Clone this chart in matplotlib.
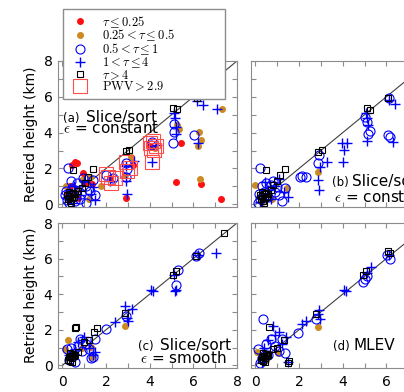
import numpy as np
import matplotlib.pyplot as plt

plt.rcParams.update({"font.family": "DejaVu Sans", "font.size": 10, "mathtext.fontset": "cm"})

# (true, retrieved) pairs, per panel and per tau class
a_red = [(0.45, 2.2), (0.6, 2.35), (0.65, 2.28), (0.95, 1.75), (1.05, 1.2), (0.35, 1.05), (0.55, 0.55),
         (0.7, 0.35), (1.35, 1.15), (0.2, 0.6), (2.2, 1.45), (2.9, 0.35), (3.25, 2.2), (4.0, 3.25),
         (5.45, 3.4), (5.2, 1.25), (6.35, 1.15), (7.25, 0.3)]
a_orange = [(0.15, 1.0), (0.5, 0.35), (0.7, 0.85), (0.9, 1.35), (1.2, 0.3), (1.25, 1.55), (1.75, 1.05),
            (2.85, 1.65), (3.15, 2.65), (4.25, 3.15), (5.35, 4.2), (5.25, 4.45), (6.28, 4.05), (6.35, 3.6),
            (6.22, 3.27), (6.3, 1.4), (7.3, 5.3)]
a_circle = [(0.27, 2.0), (0.1, 0.5), (0.2, 0.25), (0.3, 0.05), (0.45, 0.9), (0.65, 1.2), (0.85, 0.6),
            (1.1, 1.0), (1.25, 0.75), (1.4, 1.35), (1.1, 0.1), (0.6, 0.2), (0.4, 1.3), (0.8, 0.3), (1.5, 0.5),
            (0.15, 0.75), (0.95, 1.45), (2.0, 1.65), (2.3, 1.45), (2.9, 2.3), (2.95, 1.95), (2.9, 1.55),
            (4.05, 3.3), (4.1, 3.5), (5.1, 4.5), (5.1, 4.05), (5.05, 3.4), (6.05, 3.85)]
a_plus = [(0.3, 0.8), (0.55, 1.05), (0.8, 0.5), (1.0, 1.3), (1.3, 0.6), (1.5, 0.25), (0.5, 0.1), (1.4, 0.95),
          (0.2, 0.4), (2.2, 1.3), (2.9, 2.15), (2.9, 1.3), (2.95, 0.6), (3.3, 2.4), (4.12, 2.38), (4.32, 3.3),
          (5.1, 5.1), (5.15, 4.8), (5.2, 4.3), (5.2, 3.9), (6.15, 5.75), (6.45, 5.55), (7.1, 5.3), (6.2, 3.45)]
a_square = [(0.25, 0.3), (0.3, 0.45), (0.35, 0.2), (0.4, 0.55), (0.45, 0.35), (0.5, 0.65), (0.55, 0.4),
            (0.3, 0.7), (0.6, 0.55), (0.4, 0.1), (0.2, 0.5), (0.7, 0.75), (0.9, 0.9), (1.05, 1.2), (1.18, 1.54),
            (0.5, 1.92), (1.41, 1.95), (2.9, 2.95), (3.05, 3.03), (5.05, 5.38), (5.25, 5.3), (6.15, 5.95),
            (7.2, 7.05)]
a_pwv = [(2.0, 1.7), (2.1, 1.55), (2.4, 1.47), (2.25, 1.2), (2.9, 2.35), (3.1, 2.0), (2.95, 1.85),
         (4.0, 3.4), (4.15, 3.55), (4.3, 3.25), (4.05, 3.15), (4.2, 3.05), (4.12, 2.38)]

b_red = []
b_orange = [(0.0, 1.08), (0.74, 0.3), (1.43, 0.9), (0.3, 0.15), (2.85, 1.8)]
b_circle = [(0.2, 2.05), (0.3, 1.0), (0.5, 1.2), (0.7, 1.1), (0.9, 0.7), (1.1, 0.5), (1.2, 0.2), (0.6, 0.4),
            (0.2, 0.3), (0.1, 0.1), (1.35, 0.9), (0.4, 0.7), (0.8, 1.3), (1.0, 0.95), (0.15, 0.6), (2.04, 1.55),
            (2.3, 1.5), (2.15, 1.6), (2.85, 2.29), (2.9, 2.75), (5.1, 4.6), (5.25, 4.1), (5.15, 3.9), (5.0, 4.9),
            (6.09, 3.87), (6.15, 3.75), (6.1, 5.95)]
b_plus = [(0.3, 0.5), (0.6, 0.8), (0.9, 1.0), (1.1, 1.4), (1.3, 0.7), (1.5, 0.4), (0.2, 0.15), (0.7, 0.3),
          (0.45, 1.25), (2.85, 1.35), (2.9, 0.8), (2.95, 2.1), (3.27, 2.38), (3.95, 3.4), (4.2, 3.45),
          (4.05, 3.05), (4.0, 2.38), (5.05, 5.1), (5.1, 4.8), (5.15, 4.4), (5.1, 3.55), (6.1, 5.8), (6.4, 5.6),
          (6.3, 3.46)]
b_square = [(0.25, 0.3), (0.3, 0.45), (0.35, 0.2), (0.4, 0.55), (0.45, 0.35), (0.5, 0.65), (0.55, 0.4),
            (0.3, 0.7), (0.6, 0.55), (0.4, 0.1), (0.2, 0.5), (0.7, 0.8), (0.47, 1.92), (1.35, 1.95),
            (1.12, 1.64), (1.0, 1.3), (0.8, 1.1), (2.85, 2.9), (3.04, 3.03), (5.1, 5.36), (5.25, 5.27),
            (6.09, 5.96)]

c_red = []
c_orange = [(0.27, 1.43), (0.11, 0.9), (1.35, 0.45), (0.9, 1.0), (1.3, 1.05), (0.5, 0.6), (2.89, 2.2)]
c_circle = [(0.2, 0.9), (0.3, 0.3), (0.5, 0.5), (0.7, 1.1), (0.9, 0.8), (1.1, 1.2), (1.3, 0.4), (1.4, 0.45),
            (1.5, 1.5), (0.8, 1.5), (1.2, 0.9), (0.4, 0.95), (0.6, 0.2), (2.0, 2.02), (2.9, 2.8), (5.2, 4.54),
            (5.3, 5.35), (6.25, 6.3), (6.13, 6.15)]
c_plus = [(0.3, 0.6), (0.6, 0.9), (0.9, 1.4), (1.2, 1.0), (1.49, 0.74), (1.4, 0.6), (1.0, 1.6), (0.7, 1.3),
          (2.4, 2.43), (2.87, 3.32), (3.17, 3.14), (2.95, 2.65), (3.0, 2.5), (4.07, 4.25), (4.15, 4.16),
          (5.2, 4.22), (5.15, 4.15), (7.05, 6.34), (6.2, 6.2), (5.1, 5.1)]
c_square = [(0.25, 0.3), (0.3, 0.45), (0.35, 0.25), (0.4, 0.55), (0.45, 0.4), (0.5, 0.65), (0.55, 0.5),
            (0.35, 0.7), (0.6, 0.6), (0.45, 0.2), (0.7, 0.75), (0.63, 2.17), (0.6, 2.12), (1.58, 2.11),
            (1.46, 1.85), (1.0, 1.3), (1.2, 1.4), (2.89, 2.92), (5.06, 5.1), (5.2, 5.28), (6.13, 6.15),
            (7.4, 7.42)]

d_red = []
d_orange = [(0.06, 0.75), (1.02, 0.72), (0.5, 0.3), (2.86, 2.17)]
d_circle = [(0.34, 2.58), (0.1, 0.9), (0.3, 0.4), (0.5, 1.2), (0.7, 1.5), (0.9, 1.1), (1.1, 0.8),
            (1.38, 0.68), (1.2, 1.5), (0.6, 0.6), (0.2, 0.15), (1.94, 1.8), (2.8, 2.6), (4.95, 4.7),
            (5.0, 4.85), (5.1, 5.0), (6.15, 6.0), (6.05, 6.2)]
d_plus = [(0.8, 2.2), (0.4, 1.0), (0.6, 1.4), (0.9, 1.7), (1.2, 1.2), (1.4, 1.6), (1.5, 0.2), (0.3, 0.2),
          (1.1, 1.9), (2.3, 2.5), (2.15, 2.3), (2.9, 3.1), (2.95, 2.6), (2.85, 2.9), (4.08, 4.25),
          (4.16, 4.16), (5.3, 5.5), (5.1, 5.2), (6.1, 6.2)]
d_square = [(0.25, 0.3), (0.3, 0.45), (0.35, 0.25), (0.4, 0.55), (0.45, 0.4), (0.5, 0.65), (0.55, 0.5),
            (0.35, 0.7), (0.6, 0.6), (0.45, 0.2), (0.8, 0.9), (1.3, 1.4), (1.0, 1.0), (0.61, 2.17),
            (1.56, 0.25), (1.5, 0.15), (2.79, 2.86), (4.93, 5.1), (5.08, 5.28), (6.07, 6.4), (6.15, 6.3)]

labels = [r'$\tau \leq 0.25$', r'$0.25 < \tau \leq 0.5$', r'$0.5 < \tau \leq 1$',
          r'$1 < \tau \leq 4$', r'$\tau > 4$', r'$\mathrm{PWV} > 2.9$']

styles = [dict(marker='o', ms=4, color='#ff1010', mec='#ff1010'),
          dict(marker='o', ms=4, color='#cc8a21', mec='#cc8a21'),
          dict(marker='o', ms=6.5, mfc='none', mec='#0000ff', mew=0.8),
          dict(marker='+', ms=7, color='#0000ff', mew=1.0),
          dict(marker='s', ms=4.5, mfc='none', mec='k', mew=0.8),
          dict(marker='s', ms=10, mfc='none', mec='#ff4d4d', mew=0.8)]

fig = plt.figure(figsize=(4.04, 3.92), dpi=100)
W, H = 404., 392.
ax_a = fig.add_axes([58/W, 1-207/H, 179/W, 146/H])
ax_b = fig.add_axes([251/W, 1-207/H, 179/W, 146/H])
ax_c = fig.add_axes([58/W, 1-368/H, 179/W, 145/H])
ax_d = fig.add_axes([251/W, 1-368/H, 179/W, 145/H])

panels = [(ax_a, [a_red, a_orange, a_circle, a_plus, a_square, a_pwv]),
          (ax_b, [b_red, b_orange, b_circle, b_plus, b_square, []]),
          (ax_c, [c_red, c_orange, c_circle, c_plus, c_square, []]),
          (ax_d, [d_red, d_orange, d_circle, d_plus, d_square, []])]

handles = []
for ax, groups in panels:
    ax.plot([0, 8], [0, 8], color='0.25', lw=0.8, zorder=1)
    for k, pts in enumerate(groups):
        if len(pts) == 0:
            continue
        x, y = zip(*pts)
        ln, = ax.plot(x, y, ls='none', label=labels[k], zorder=2, **styles[k])
        if ax is ax_a:
            handles.append(ln)
    ax.set_xlim(-0.2, 8)
    ax.set_ylim(-0.15, 8)
    ax.set_xticks(range(9))
    ax.set_yticks(range(9))
    ax.set_xticklabels(['0', '', '2', '', '4', '', '6', '', '8'])
    ax.set_yticklabels(['0', '', '2', '', '4', '', '6', '', '8'])
    ax.tick_params(direction='in', top=True, right=True, length=3.5, width=0.8, color='0.55', pad=5)
    ax.tick_params(axis='y', pad=4)
    for s in ax.spines.values():
        s.set_color('0.55')

for ax in (ax_a, ax_b):
    ax.set_xticklabels([])
for ax in (ax_b, ax_d):
    ax.set_yticklabels([])
for ax in (ax_a, ax_c):
    ax.set_ylabel('Retried height (km)')
for ax in (ax_c, ax_d):
    ax.set_xlabel('True height (km)', x=0.08, ha='left', labelpad=2)

# panel annotations
ax_a.text(0.028, 0.58, '(a)', transform=ax_a.transAxes, fontsize=8.5)
ax_a.text(0.156, 0.58, 'Slice/sort', transform=ax_a.transAxes, fontsize=11)
ax_a.text(0.028, 0.507, r'$\epsilon$ = constant', transform=ax_a.transAxes, fontsize=11)
ax_b.text(0.45, 0.146, '(b)', transform=ax_b.transAxes, fontsize=8.5)
ax_b.text(0.565, 0.146, 'Slice/sort', transform=ax_b.transAxes, fontsize=11)
ax_b.text(0.465, 0.036, r'$\epsilon$ = constant', transform=ax_b.transAxes, fontsize=11)
ax_c.text(0.447, 0.124, '(c)', transform=ax_c.transAxes, fontsize=8.5)
ax_c.text(0.57, 0.124, 'Slice/sort', transform=ax_c.transAxes, fontsize=11)
ax_c.text(0.458, 0.034, r'$\epsilon$ = smooth', transform=ax_c.transAxes, fontsize=11)
ax_d.text(0.456, 0.124, '(d)', transform=ax_d.transAxes, fontsize=8.5)
ax_d.text(0.57, 0.124, 'MLEV', transform=ax_d.transAxes, fontsize=11)

fig.legend(handles, labels, loc='upper left', mode='expand',
           bbox_to_anchor=(63/W, 1-98/H, 162/W, 89/H), bbox_transform=fig.transFigure,
           borderaxespad=0, fancybox=False, edgecolor='0.55', framealpha=1, numpoints=1,
           fontsize=9, handlelength=1.9, handletextpad=0.8, labelspacing=-0.15, borderpad=0.4)

fig.savefig('out.png', dpi=100)
